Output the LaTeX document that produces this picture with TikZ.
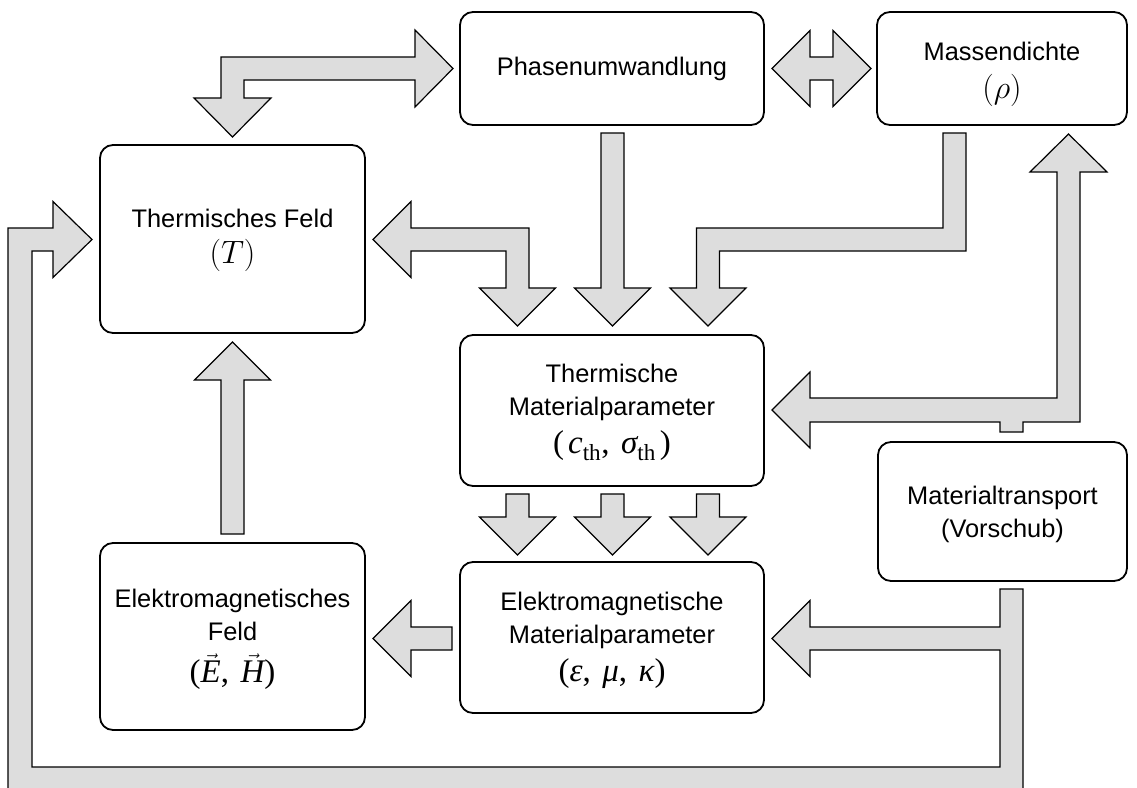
\documentclass[tikz,border=0pt]{standalone}
\usepackage{graphicx}
\usepackage{fontspec}
\setmainfont{Liberation Sans}
\newfontfamily\tms{Liberation Serif}
\newcommand\lblfont{\fontsize{25.4}{33}\selectfont}
\newcommand\formfont{\fontsize{33}{38}\selectfont}
\newcommand\tmsvar[1]{{\tms\itshape #1}}
\newcommand\sep{,\hspace{0.35em}}
% Computer Modern formula enlarged beyond its largest design size
\newcommand\cmformula[1]{\scalebox{1.3}{\fontsize{24.88}{30}\selectfont$#1$}}
\definecolor{arrowgray}{RGB}{221,221,221}
\tikzset{
  box/.style={draw, line width=1.8pt, rounded corners=13pt, fill=white,
    inner sep=0pt},
  boxtext/.style={align=center, inner sep=0pt, font=\lblfont},
  blockarrow/.style={draw, line width=1.2pt, fill=arrowgray, line join=miter},
}
\begin{document}
\begin{tikzpicture}[x=1pt,y=-1pt]
\clip (0,0) rectangle (1137,787);
\useasboundingbox (0,0) rectangle (1137,787);

% --- block arrows ---
% thermal field <-> phase change
\draw[blockarrow] (232.5,137) -- (271,98) -- (244,98) -- (244,80) -- (415,80)
  -- (415,107) -- (453,68.5) -- (415,30) -- (415,57) -- (221,57) -- (221,98)
  -- (194,98) -- cycle;
% phase change <-> density
\draw[blockarrow] (772,68.5) -- (810,30.5) -- (810,57) -- (833,57) -- (833,30.5)
  -- (871,68.5) -- (833,106.5) -- (833,80) -- (810,80) -- (810,106.5) -- cycle;
% phase change -> thermal parameters
\draw[blockarrow] (601,133) -- (624,133) -- (624,288) -- (650.5,288)
  -- (612.5,326) -- (574.5,288) -- (601,288) -- cycle;
% thermal parameters <-> thermal field
\draw[blockarrow] (373,239.5) -- (411,201.5) -- (411,228) -- (529,228) -- (529,288)
  -- (555.5,288) -- (517.5,326) -- (479.5,288) -- (506,288) -- (506,251)
  -- (411,251) -- (411,277.5) -- cycle;
% density -> thermal parameters
\draw[blockarrow] (943,133) -- (966,133) -- (966,251) -- (719.5,251) -- (719.5,288)
  -- (746,288) -- (708,326) -- (670,288) -- (696.5,288) -- (696.5,228)
  -- (943,228) -- cycle;
% material transport -> density, thermal parameters
\draw[blockarrow] (1000,432) -- (1000,422) -- (810,422) -- (810,448) -- (772,410)
  -- (810,372) -- (810,398) -- (1057,398) -- (1057,172) -- (1030,172)
  -- (1068.5,134) -- (1107,172) -- (1080,172) -- (1080,422) -- (1023,422)
  -- (1023,432) -- cycle;
% thermal parameters -> electromagnetic parameters
\foreach \cx in {517.5,612.5,708}{
  \draw[blockarrow] (\cx-11.5,494) -- (\cx+11.5,494) -- (\cx+11.5,517)
    -- (\cx+38,517) -- (\cx,555) -- (\cx-38,517) -- (\cx-11.5,517) -- cycle;
}
% electromagnetic field -> thermal field
\draw[blockarrow] (232.5,342) -- (270.5,380) -- (244,380) -- (244,534)
  -- (221,534) -- (221,380) -- (194.5,380) -- cycle;
% electromagnetic parameters -> electromagnetic field
\draw[blockarrow] (373,638.5) -- (411,600.5) -- (411,627) -- (452,627)
  -- (452,650) -- (411,650) -- (411,676.5) -- cycle;
% material transport -> electromagnetic parameters, thermal field
\draw[blockarrow] (1000,589) -- (1023,589) -- (1023,795) -- (8,795) -- (8,228)
  -- (53,228) -- (53,201.5) -- (92,239.5) -- (53,277.5) -- (53,251) -- (32,251)
  -- (32,767) -- (1000,767) -- (1000,650) -- (810,650) -- (810,676.5)
  -- (772,638.5) -- (810,600.5) -- (810,627) -- (1000,627) -- cycle;

% --- blocks ---
\node[box, minimum width=265pt, minimum height=188pt] (therm) at (232.5,239) {};
\node[boxtext, yshift=-1pt] (therm-t) at (therm.center)
  {Thermisches Feld\\[3pt]\cmformula{(T)}};

\node[box, minimum width=304pt, minimum height=113pt] (phase) at (612,68.5) {};
\node[boxtext] (phase-t) at (phase.center) {Phasenumwandlung};

\node[box, minimum width=250pt, minimum height=113pt] (dens) at (1002,68.5) {};
\node[boxtext, yshift=-6pt] (dens-t) at (dens.center)
  {Massendichte\\[5pt]\cmformula{(\rho)}};

\node[box, minimum width=304pt, minimum height=151pt] (thpar) at (612,410.5) {};
\node[boxtext, yshift=-2pt] (thpar-t) at (thpar.center)
  {Thermische\\Materialparameter\\[5pt]{\formfont\tms(\hspace{0.12em}\tmsvar{c}\textsubscript{th}\sep\tmsvar{σ}\textsubscript{th}\hspace{0.12em})}};

\node[box, minimum width=249pt, minimum height=139pt] (trans) at (1002.5,511.5) {};
\node[boxtext, yshift=-3pt] (trans-t) at (trans.center)
  {Materialtransport\\(Vorschub)};

\node[box, minimum width=265pt, minimum height=187pt] (emfield) at (232.5,636.5) {};
\node[boxtext, yshift=-3pt] (emfield-t) at (emfield.center)
  {Elektromagnetisches\\Feld\\[9pt]{\formfont\tms($\vec{\hbox{\tmsvar{E}}}$\sep$\vec{\hbox{\tmsvar{H}}}$)}};

\node[box, minimum width=304pt, minimum height=151pt] (empar) at (612,637.5) {};
\node[boxtext, yshift=-3pt] (empar-t) at (empar.center)
  {Elektromagnetische\\Materialparameter\\[5pt]{\formfont\tms(\tmsvar{ε}\sep\tmsvar{μ}\sep\tmsvar{κ})}};
\end{tikzpicture}
\end{document}
